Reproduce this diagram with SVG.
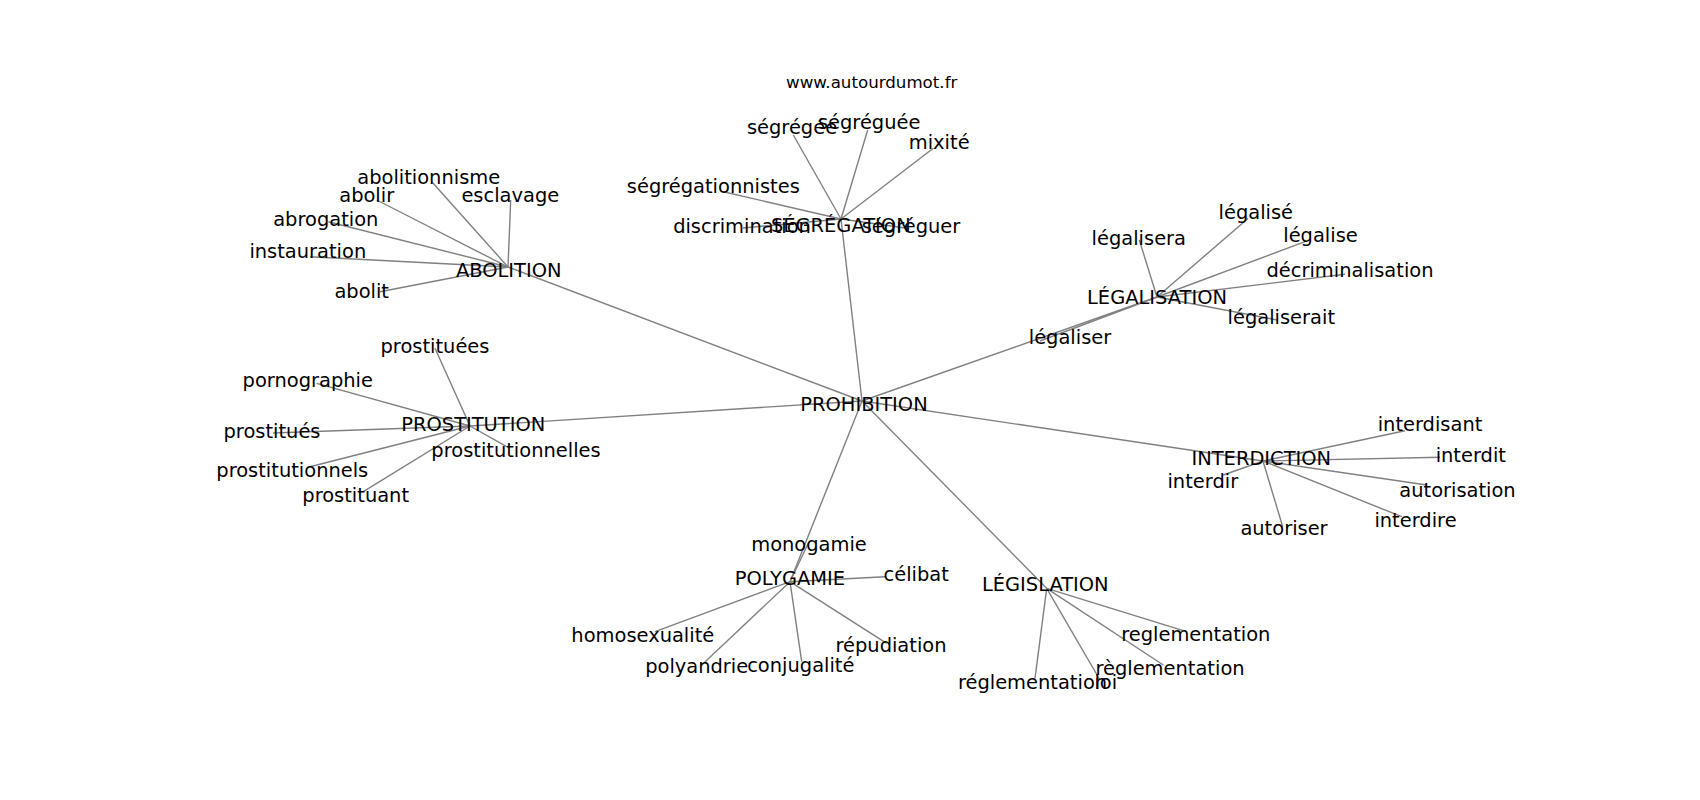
<svg xmlns="http://www.w3.org/2000/svg" width="1700" height="800" viewBox="0 0 1700 800">
<style>
.e{stroke:#808080;stroke-width:1.4;fill:none}
.n{font-family:"DejaVu Sans",sans-serif;font-size:19.44px;fill:#000;text-anchor:middle}
.t{font-family:"DejaVu Sans",sans-serif;font-size:16.67px;fill:#000;text-anchor:middle}
</style>
<rect width="1700" height="800" fill="#fff"/>
<g id="edges">
<line class="e" x1="862" y1="401" x2="508" y2="267"/>
<line class="e" x1="862" y1="401" x2="841" y2="219"/>
<line class="e" x1="862" y1="401" x2="1157" y2="297"/>
<line class="e" x1="862" y1="401" x2="470" y2="426"/>
<line class="e" x1="862" y1="401" x2="1263" y2="461"/>
<line class="e" x1="862" y1="401" x2="790" y2="581.7"/>
<line class="e" x1="862" y1="401" x2="1046.7" y2="588.3"/>
<line class="e" x1="508" y1="267" x2="432" y2="182"/>
<line class="e" x1="508" y1="267" x2="376.7" y2="200"/>
<line class="e" x1="508" y1="267" x2="510.7" y2="200"/>
<line class="e" x1="508" y1="267" x2="328.3" y2="221.7"/>
<line class="e" x1="508" y1="267" x2="310" y2="256.7"/>
<line class="e" x1="508" y1="267" x2="380" y2="291.7"/>
<line class="e" x1="841" y1="219" x2="793.3" y2="135"/>
<line class="e" x1="841" y1="219" x2="867.7" y2="130"/>
<line class="e" x1="841" y1="219" x2="933.3" y2="148.3"/>
<line class="e" x1="841" y1="219" x2="723.3" y2="191.7"/>
<line class="e" x1="841" y1="219" x2="743" y2="228"/>
<line class="e" x1="841" y1="219" x2="905" y2="228"/>
<line class="e" x1="1157" y1="297" x2="1248" y2="218.5"/>
<line class="e" x1="1157" y1="297" x2="1139.3" y2="240"/>
<line class="e" x1="1157" y1="297" x2="1305" y2="241.7"/>
<line class="e" x1="1157" y1="297" x2="1345" y2="274.3"/>
<line class="e" x1="1157" y1="297" x2="1277" y2="320"/>
<line class="e" x1="1157" y1="297" x2="1040" y2="341"/>
<line class="e" x1="470" y1="426" x2="435" y2="348.3"/>
<line class="e" x1="470" y1="426" x2="316.7" y2="383.3"/>
<line class="e" x1="470" y1="426" x2="273" y2="433"/>
<line class="e" x1="470" y1="426" x2="506.7" y2="446.7"/>
<line class="e" x1="470" y1="426" x2="310" y2="466.7"/>
<line class="e" x1="470" y1="426" x2="363.3" y2="491.7"/>
<line class="e" x1="1263" y1="461" x2="1405" y2="430.7"/>
<line class="e" x1="1263" y1="461" x2="1440" y2="457.3"/>
<line class="e" x1="1263" y1="461" x2="1223.3" y2="475"/>
<line class="e" x1="1263" y1="461" x2="1426.7" y2="485"/>
<line class="e" x1="1263" y1="461" x2="1401.7" y2="516.7"/>
<line class="e" x1="1263" y1="461" x2="1282.7" y2="526.7"/>
<line class="e" x1="790" y1="581.7" x2="808.3" y2="543.3"/>
<line class="e" x1="790" y1="581.7" x2="885" y2="576.7"/>
<line class="e" x1="790" y1="581.7" x2="655" y2="631.7"/>
<line class="e" x1="790" y1="581.7" x2="886.7" y2="643.3"/>
<line class="e" x1="790" y1="581.7" x2="701.7" y2="665"/>
<line class="e" x1="790" y1="581.7" x2="801.7" y2="661.7"/>
<line class="e" x1="1046.7" y1="588.3" x2="1183.3" y2="630.7"/>
<line class="e" x1="1046.7" y1="588.3" x2="1163.3" y2="665"/>
<line class="e" x1="1046.7" y1="588.3" x2="1035" y2="678.3"/>
<line class="e" x1="1046.7" y1="588.3" x2="1100" y2="680"/>
</g>
<text class="t" x="871.7" y="87.7">www.autourdumot.fr</text>
<g id="n-prohibition"><text class="n" x="864" y="411">PROHIBITION</text></g>
<g id="n-abolition"><text class="n" x="508.7" y="276.7">ABOLITION</text></g>
<g id="n-abolitionnisme"><text class="n" x="428.7" y="184.3">abolitionnisme</text></g>
<g id="n-abolir"><text class="n" x="366.7" y="201.7">abolir</text></g>
<g id="n-esclavage"><text class="n" x="510.3" y="201.7">esclavage</text></g>
<g id="n-abrogation"><text class="n" x="325.8" y="226">abrogation</text></g>
<g id="n-instauration"><text class="n" x="307.8" y="258.3">instauration</text></g>
<g id="n-abolit"><text class="n" x="361.7" y="298.3">abolit</text></g>
<g id="n-segregation"><text class="n" x="840.8" y="231.7">SÉGRÉGATION</text></g>
<g id="n-segregee"><text class="n" x="792" y="134">ségrégée</text></g>
<g id="n-segreguee"><text class="n" x="869.2" y="129.3">ségréguée</text></g>
<g id="n-mixite"><text class="n" x="939.2" y="149.3">mixité</text></g>
<g id="n-segregationnistes"><text class="n" x="713.3" y="193.3">ségrégationnistes</text></g>
<g id="n-discrimination"><text class="n" x="742" y="233.3">discrimination</text></g>
<g id="n-segreguer"><text class="n" x="911" y="233.3">ségréguer</text></g>
<g id="n-legalisation"><text class="n" x="1157" y="304">LÉGALISATION</text></g>
<g id="n-legalise-acc"><text class="n" x="1255.8" y="219.3">légalisé</text></g>
<g id="n-legalisera"><text class="n" x="1138.8" y="245">légalisera</text></g>
<g id="n-legalise"><text class="n" x="1320.5" y="241.7">légalise</text></g>
<g id="n-decriminalisation"><text class="n" x="1350" y="276.7">décriminalisation</text></g>
<g id="n-legaliserait"><text class="n" x="1281.3" y="324">légaliserait</text></g>
<g id="n-legaliser"><text class="n" x="1070" y="344">légaliser</text></g>
<g id="n-prostitution"><text class="n" x="473.3" y="431">PROSTITUTION</text></g>
<g id="n-prostituees"><text class="n" x="435" y="353.3">prostituées</text></g>
<g id="n-pornographie"><text class="n" x="307.8" y="386.7">pornographie</text></g>
<g id="n-prostitues"><text class="n" x="272" y="438.3">prostitués</text></g>
<g id="n-prostitutionnelles"><text class="n" x="516" y="456.7">prostitutionnelles</text></g>
<g id="n-prostitutionnels"><text class="n" x="292.3" y="477.3">prostitutionnels</text></g>
<g id="n-prostituant"><text class="n" x="355.7" y="501.5">prostituant</text></g>
<g id="n-interdiction"><text class="n" x="1261.3" y="465">INTERDICTION</text></g>
<g id="n-interdisant"><text class="n" x="1430" y="430.7">interdisant</text></g>
<g id="n-interdit"><text class="n" x="1470.8" y="461.7">interdit</text></g>
<g id="n-interdir"><text class="n" x="1202.8" y="488.3">interdir</text></g>
<g id="n-autorisation"><text class="n" x="1457.5" y="496.7">autorisation</text></g>
<g id="n-interdire"><text class="n" x="1415.5" y="526.7">interdire</text></g>
<g id="n-autoriser"><text class="n" x="1284" y="535">autoriser</text></g>
<g id="n-polygamie"><text class="n" x="790" y="585">POLYGAMIE</text></g>
<g id="n-monogamie"><text class="n" x="809" y="550.7">monogamie</text></g>
<g id="n-celibat"><text class="n" x="916.2" y="580.7">célibat</text></g>
<g id="n-homosexualite"><text class="n" x="642.8" y="641.7">homosexualité</text></g>
<g id="n-repudiation"><text class="n" x="891" y="651.7">répudiation</text></g>
<g id="n-polyandrie"><text class="n" x="696.7" y="673.3">polyandrie</text></g>
<g id="n-conjugalite"><text class="n" x="800.8" y="671.7">conjugalité</text></g>
<g id="n-legislation"><text class="n" x="1045.3" y="590.7">LÉGISLATION</text></g>
<g id="n-reglementation1"><text class="n" x="1195.8" y="640.7">reglementation</text></g>
<g id="n-reglementation2"><text class="n" x="1170" y="675">règlementation</text></g>
<g id="n-reglementation3"><text class="n" x="1032.5" y="689.3">réglementation</text></g>
<g id="n-loi"><text class="n" x="1105.8" y="689.3">loi</text></g>
</svg>
